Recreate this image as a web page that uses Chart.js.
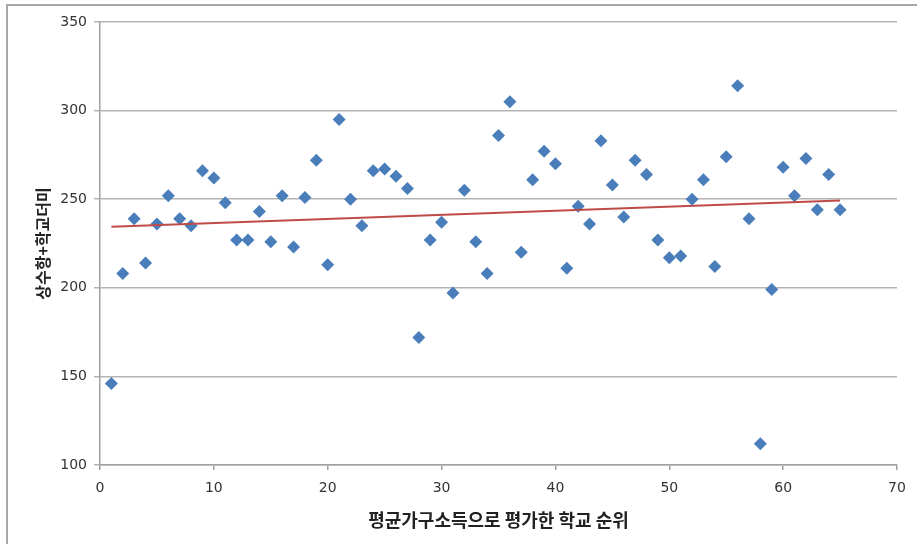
<!DOCTYPE html>
<html>
<head>
<meta charset="utf-8">
<script src="https://cdn.jsdelivr.net/npm/chart.js@4/dist/chart.umd.min.js"></script>
<style>
  html, body { margin: 0; padding: 0; background: #fff; }
  #wrap { position: relative; width: 917px; height: 544px; overflow: hidden; }
  #frame { position: absolute; left: 6px; top: 4px; width: 1000px; height: 1000px;
           border-left: 2px solid #a8a8a8; border-top: 2px solid #a8a8a8; }
  #chart { position: absolute; left: 0; top: 0; }
</style>
</head>
<body>
<div id="wrap">
  <div id="frame"></div>
  <canvas id="chart" width="917" height="544"></canvas>
</div>
<script>
// school rank by average household income (x) vs intercept + school dummy (y)
var ranks = [1, 2, 3, 4, 5, 6, 7, 8, 9, 10, 11, 12, 13, 14, 15, 16, 17, 18, 19, 20,
    21, 22, 23, 24, 25, 26, 27, 28, 29, 30, 31, 32, 33, 34, 35, 36, 37, 38, 39, 40,
    41, 42, 43, 44, 45, 46, 47, 48, 49, 50, 51, 52, 53, 54, 55, 56, 57, 58, 59, 60,
    61, 62, 63, 64, 65];
var values = [146, 208, 239, 214, 236, 252, 239, 235, 266, 262, 248, 227, 227, 243, 226, 252, 223, 251, 272, 213,
    295, 250, 235, 266, 267, 263, 256, 172, 227, 237, 197, 255, 226, 208, 286, 305, 220, 261, 277, 270,
    211, 246, 236, 283, 258, 240, 272, 264, 227, 217, 218, 250, 261, 212, 274, 314, 239, 112, 199, 268,
    252, 273, 244, 264, 244];

// linear trendline ends
var trendX = [1, 65];
var trendY = [234.5, 249.3];

var xTicks = [0, 10, 20, 30, 40, 50, 60, 70];
var yTicks = [100, 150, 200, 250, 300, 350];

var xTitle = '평균가구소득으로 평가한 학교 순위';
var yTitle = '상수항+학교더미';

var points = ranks.map(function(r, i) { return {x: r, y: values[i]}; });
var trend = trendX.map(function(x, i) { return {x: x, y: trendY[i]}; });

var tickFont = {family: '"DejaVu Sans", Verdana, sans-serif', size: 14};
var xTitleFont = {family: '"Noto Sans CJK KR", sans-serif', size: 18, weight: 'bold'};
var yTitleFont = {family: '"Noto Sans CJK KR", sans-serif', size: 16, weight: 'bold'};

new Chart(document.getElementById('chart'), {
    type: 'scatter',
    data: {
        datasets: [{
            label: 'points',
            data: points,
            pointStyle: 'rectRot',
            pointRadius: 6.5,
            pointBackgroundColor: '#4a7ebb',
            pointBorderColor: '#4a7ebb',
            pointBorderWidth: 0,
            order: 2
        }, {
            type: 'line',
            label: 'trend',
            data: trend,
            borderColor: '#be4b48',
            borderWidth: 2,
            pointRadius: 0,
            fill: false,
            order: 1
        }]
    },
    options: {
        responsive: false,
        animation: false,
        layout: {padding: {left: 0, top: 22, right: 20, bottom: 0}},
        plugins: {legend: {display: false}, tooltip: {enabled: false}},
        scales: {
            x: {
                type: 'linear',
                min: 0,
                max: 70,
                afterBuildTicks: function(scale) {
                    scale.ticks = xTicks.map(function(v) { return {value: v}; });
                },
                afterFit: function(scale) { scale.height = 79; },
                grid: {drawOnChartArea: false, drawTicks: true, tickLength: 5, color: '#a0a0a0', lineWidth: 1.5},
                border: {color: '#a0a0a0', width: 1.5},
                ticks: {color: '#333', font: tickFont, padding: 10, maxRotation: 0},
                title: {display: true, text: xTitle, color: '#222', font: xTitleFont, padding: {top: 0, bottom: 13}}
            },
            y: {
                min: 100,
                max: 350,
                afterBuildTicks: function(scale) {
                    scale.ticks = yTicks.map(function(v) { return {value: v}; });
                },
                afterFit: function(scale) { scale.width = 100; },
                grid: {color: '#b4b4b4', lineWidth: 1.5, tickLength: 6},
                border: {color: '#a0a0a0', width: 1.5},
                ticks: {color: '#333', font: tickFont, padding: 7},
                title: {display: true, text: yTitle, color: '#222', font: yTitleFont, padding: {top: 33, bottom: 0}}
            }
        }
    }
});
</script>
</body>
</html>
